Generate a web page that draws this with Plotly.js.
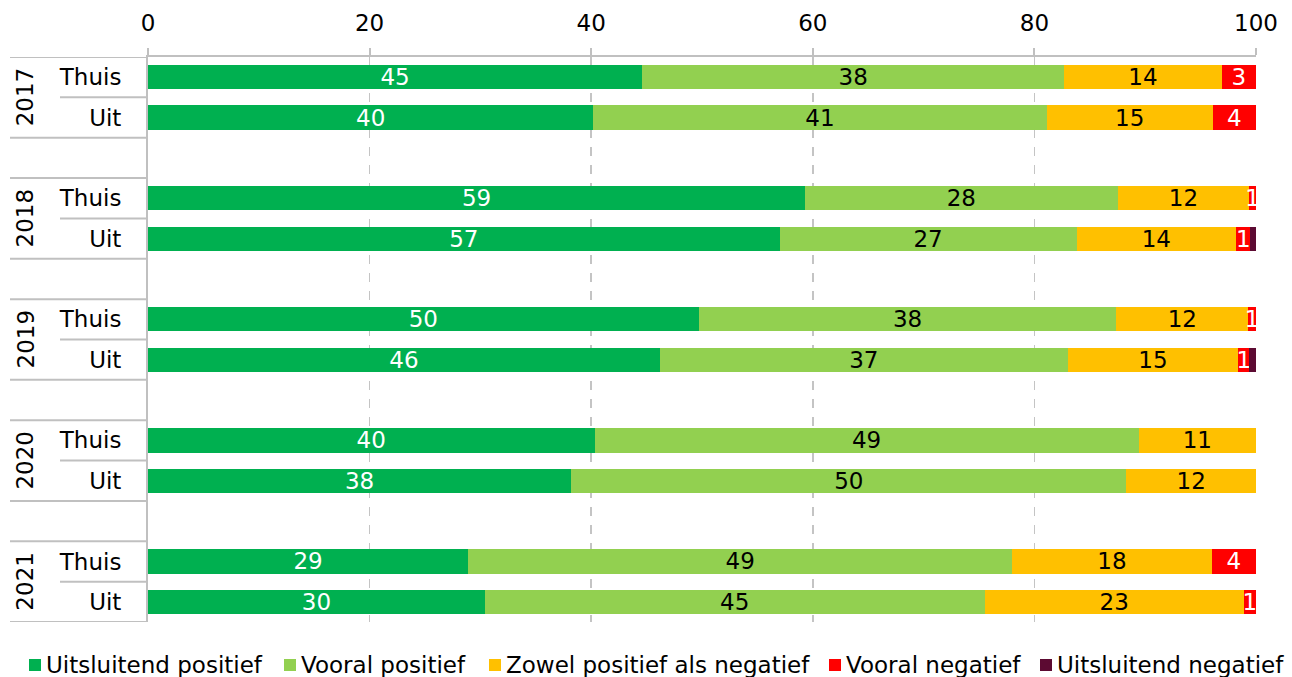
<!DOCTYPE html>
<html>
<head>
<meta charset="utf-8">
<script src="https://cdn.plot.ly/plotly-3.0.1.min.js"></script>
<style>html,body{margin:0;padding:0;background:#fff;}#chart{width:1292px;height:677px;}</style>
</head>
<body>
<div id="chart"></div>
<script>
const years = ['2017', '2018', '2019', '2020', '2021'];
const places = ['Thuis', 'Uit'];
const seriesNames = ['Uitsluitend positief', 'Vooral positief', 'Zowel positief als negatief', 'Vooral negatief', 'Uitsluitend negatief'];
// order: 2017 Thuis, 2017 Uit, 2018 Thuis, 2018 Uit, ...
const uitsluitendPositief = [44.6, 40.2, 59.3, 57.0, 49.7, 46.2, 40.3, 38.2, 28.9, 30.4];
const vooralPositief      = [38.1, 40.9, 28.2, 26.8, 37.7, 36.8, 49.1, 50.1, 49.1, 45.1];
const zowelPosNeg         = [14.2, 15.0, 11.9, 14.4, 11.9, 15.4, 10.6, 11.7, 18.0, 23.4];
const vooralNegatief      = [3.1, 3.9, 0.6, 1.3, 0.7, 1.0, 0, 0, 4.0, 1.1];
const uitsluitendNegatief = [0, 0, 0, 0.5, 0, 0.6, 0, 0, 0, 0];
const xTicks = [0, 20, 40, 60, 80, 100];

const seriesValues = [uitsluitendPositief, vooralPositief, zowelPosNeg, vooralNegatief, uitsluitendNegatief];
const colors = ['#00b050', '#92d050', '#ffc000', '#ff0000', '#5c0a32'];
const textColors = ['#ffffff', '#000000', '#000000', '#ffffff', '#ffffff'];
const showLabels = [true, true, true, true, false];

const FONT = 'DejaVu Sans, sans-serif';
const FS = 23;

// slot positions: each year group has Thuis, Uit and an empty slot
const yPos = [];
const yText = [];
years.forEach((yr, g) => places.forEach((p, i) => { yPos.push(g * 3 + i); yText.push(p); }));

const traces = seriesValues.map((vals, s) => ({
  type: 'bar',
  orientation: 'h',
  name: seriesNames[s],
  x: vals,
  y: yPos,
  width: 0.6,
  marker: {color: colors[s], line: {width: 0}},
  text: vals.map(v => (showLabels[s] && v > 0) ? String(Math.round(v)) : ''),
  textposition: 'inside',
  insidetextanchor: 'middle',
  textangle: 0,
  constraintext: 'none',
  textfont: {family: FONT, size: FS, color: textColors[s]},
  hoverinfo: 'name+x',
  showlegend: false
}));

// plot area in pixels
const L = 148, R = 1256, T = 57, B = 622;
const W = 1292, H = 677;
const px = x => (x - L) / (R - L);
const py = y => (B - y) / (B - T);

const shapes = [];
const annotations = [];
const lineStyle = {color: '#c0c0c0', width: 2};
years.forEach((yr, g) => {
  const top = g * 3 - 0.5, mid = g * 3 + 0.5, bot = g * 3 + 1.5;
  shapes.push({type: 'line', xref: 'paper', yref: 'y', x0: px(10), x1: 0, y0: top, y1: top, line: lineStyle});
  shapes.push({type: 'line', xref: 'paper', yref: 'y', x0: px(10), x1: 0, y0: bot, y1: bot, line: lineStyle});
  shapes.push({type: 'line', xref: 'paper', yref: 'y', x0: px(60), x1: 0, y0: mid, y1: mid, line: lineStyle});
  annotations.push({xref: 'paper', yref: 'y', x: px(25), y: mid, text: yr, textangle: -90,
    showarrow: false, xanchor: 'center', yanchor: 'middle', font: {family: FONT, size: FS, color: '#000'}});
});

// custom legend row
const legendSquares = [29, 284, 489, 829, 1040];
const legendY = 665;
seriesNames.forEach((nm, s) => {
  const x0 = legendSquares[s];
  shapes.push({type: 'rect', xref: 'paper', yref: 'paper', x0: px(x0), x1: px(x0 + 12), y0: py(legendY + 6), y1: py(legendY - 6),
    fillcolor: colors[s], line: {width: 0}});
  annotations.push({xref: 'paper', yref: 'paper', x: px(x0 + 15), y: py(legendY), text: nm, showarrow: false,
    xanchor: 'left', yanchor: 'middle', font: {family: FONT, size: FS, color: '#000'}});
});

const layout = {
  width: W, height: H,
  margin: {l: L, r: W - R, t: T, b: H - B, pad: 0},
  paper_bgcolor: '#ffffff',
  plot_bgcolor: '#ffffff',
  barmode: 'stack',
  showlegend: false,
  uniformtext: {mode: 'show', minsize: FS},
  font: {family: FONT, size: FS, color: '#000'},
  xaxis: {
    side: 'top', range: [0, 100], tickvals: xTicks, ticktext: xTicks.map(String),
    showgrid: true, gridcolor: '#c4c4c4', griddash: 'dash', gridwidth: 1.5,
    zeroline: false, showline: true, linecolor: '#c0c0c0', linewidth: 2,
    ticks: 'outside', ticklen: 7, tickcolor: '#c0c0c0', tickwidth: 2,
    ticklabelstandoff: 8,
    tickfont: {family: FONT, size: FS, color: '#000'}, fixedrange: true
  },
  yaxis: {
    range: [13.5, -0.5], tickvals: yPos, ticktext: yText,
    showgrid: false, zeroline: false, showline: true, linecolor: '#c0c0c0', linewidth: 2,
    ticks: '', ticklabelstandoff: 20,
    tickfont: {family: FONT, size: FS, color: '#000'}, fixedrange: true
  },
  shapes: shapes,
  annotations: annotations
};

Plotly.newPlot('chart', traces, layout, {displayModeBar: false, staticPlot: true});
</script>
</body>
</html>
